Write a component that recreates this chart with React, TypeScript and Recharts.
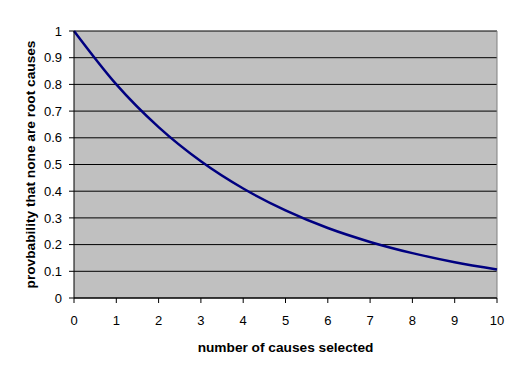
import { LineChart, Line, XAxis, YAxis, CartesianGrid, ReferenceLine, Label } from "recharts";

const causes = [0, 1, 2, 3, 4, 5, 6, 7, 8, 9, 10];
const probNone = [1, 0.8, 0.64, 0.512, 0.41, 0.328, 0.262, 0.21, 0.168, 0.134, 0.107];
const yTicks = [0, 0.1, 0.2, 0.3, 0.4, 0.5, 0.6, 0.7, 0.8, 0.9, 1];

const data = causes.map((n, i) => ({ n, p: probNone[i] }));

const font = "'Liberation Sans', Arial, sans-serif";

export default function App() {
  return (
    <div style={{ position: "absolute", left: 0, top: 0, width: 522, height: 379, background: "#fff", fontFamily: font }}>
      <LineChart width={522} height={379} data={data} margin={{ top: 31, right: 25, bottom: 51, left: 30 }}>
        <CartesianGrid vertical={false} stroke="#000" fill="#C0C0C0" strokeOpacity={1} />
        <XAxis
          dataKey="n"
          type="number"
          domain={[0, 10]}
          ticks={causes}
          height={30}
          stroke="#000"
          tickSize={5}
          tick={{ fill: "#000", fontSize: 13, fontFamily: font }}
          tickMargin={13}
        >
          <Label value="number of causes selected" position="insideBottom" offset={-24} style={{ fontWeight: "bold", fontSize: 13.7, fill: "#000", fontFamily: font }} />
        </XAxis>
        <YAxis
          type="number"
          domain={[0, 1]}
          ticks={yTicks}
          width={44}
          stroke="#000"
          tickSize={5}
          tickMargin={7}
          tick={{ fill: "#000", fontSize: 13, fontFamily: font }}
        >
          <Label value="provbability that none are root causes" angle={-90} position="insideLeft" offset={0} style={{ fontWeight: "bold", fontSize: 13.7, fill: "#000", fontFamily: font, textAnchor: "middle" }} />
        </YAxis>
        <ReferenceLine x={10} stroke="#808080" strokeWidth={1} />
        <Line type="monotone" dataKey="p" stroke="#000080" strokeWidth={2.5} dot={false} isAnimationActive={false} />
      </LineChart>
    </div>
  );
}
